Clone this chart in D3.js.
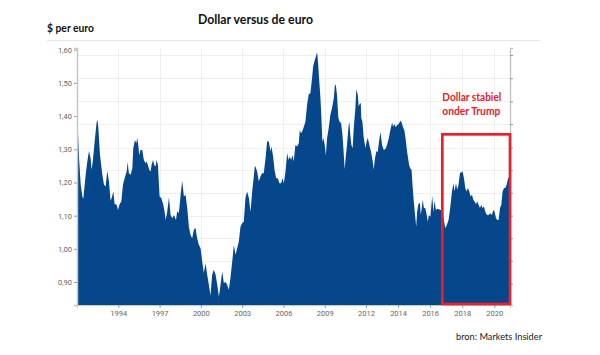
<!DOCTYPE html>
<html><head><meta charset="utf-8">
<script src="https://cdn.jsdelivr.net/npm/d3@7"></script>
<style>html,body{margin:0;padding:0;background:#fff;}svg{display:block;}</style>
</head><body>
<svg id="chart" width="600" height="355"></svg>
<script>
// ---- data ----
const years = [
1991.00,1991.07,1991.15,1991.27,1991.39,1991.46,1991.63,1991.75,1991.87,1991.99,
1992.06,1992.16,1992.28,1992.43,1992.48,1992.55,1992.67,1992.84,1992.96,1993.08,
1993.20,1993.32,1993.44,1993.52,1993.64,1993.73,1993.88,1993.98,1994.10,1994.22,
1994.34,1994.46,1994.61,1994.68,1994.77,1994.90,1995.02,1995.09,1995.21,1995.31,
1995.38,1995.45,1995.52,1995.62,1995.74,1995.86,1995.98,1996.06,1996.15,1996.25,
1996.35,1996.42,1996.52,1996.61,1996.71,1996.78,1996.88,1997.00,1997.12,1997.27,
1997.36,1997.44,1997.55,1997.68,1997.80,1997.92,1998.04,1998.19,1998.28,1998.40,
1998.53,1998.64,1998.77,1998.89,1999.01,1999.13,1999.25,1999.37,1999.49,1999.61,
1999.73,1999.86,1999.98,2000.10,2000.22,2000.34,2000.46,2000.58,2000.70,2000.82,
2000.94,2001.07,2001.19,2001.31,2001.43,2001.55,2001.67,2001.79,2001.91,2002.03,
2002.15,2002.28,2002.40,2002.52,2002.64,2002.76,2002.88,2003.00,2003.12,2003.24,
2003.36,2003.49,2003.61,2003.73,2003.85,2003.92,2003.97,2004.09,2004.21,2004.33,
2004.45,2004.57,2004.70,2004.82,2004.94,2005.06,2005.13,2005.25,2005.35,2005.47,
2005.59,2005.71,2005.83,2005.93,2006.03,2006.15,2006.27,2006.37,2006.46,2006.56,
2006.66,2006.75,2006.87,2006.99,2007.12,2007.19,2007.28,2007.38,2007.48,2007.60,
2007.72,2007.84,2007.96,2008.08,2008.16,2008.25,2008.35,2008.45,2008.52,2008.59,
2008.69,2008.76,2008.83,2008.91,2009.00,2009.08,2009.17,2009.29,2009.41,2009.53,
2009.66,2009.73,2009.80,2009.89,2009.99,2010.09,2010.19,2010.29,2010.38,2010.45,
2010.52,2010.62,2010.72,2010.79,2010.86,2010.94,2011.03,2011.11,2011.23,2011.30,
2011.40,2011.47,2011.54,2011.62,2011.66,2011.74,2011.83,2011.96,2012.02,2012.11,
2012.21,2012.31,2012.42,2012.48,2012.56,2012.65,2012.73,2012.81,2012.90,2013.00,
2013.11,2013.21,2013.31,2013.42,2013.52,2013.63,2013.69,2013.77,2013.86,2013.94,
2014.04,2014.15,2014.23,2014.31,2014.40,2014.48,2014.56,2014.69,2014.77,2014.84,
2014.90,2014.98,2015.06,2015.13,2015.19,2015.27,2015.36,2015.42,2015.48,2015.54,
2015.61,2015.69,2015.77,2015.86,2015.92,2016.02,2016.13,2016.21,2016.27,2016.36,
2016.44,2016.52,2016.63,2016.73,2016.84,2016.94,2017.04,2017.15,2017.25,2017.36,
2017.46,2017.52,2017.61,2017.69,2017.77,2017.86,2017.94,2018.02,2018.11,2018.19,
2018.27,2018.36,2018.44,2018.52,2018.61,2018.69,2018.77,2018.86,2018.94,2019.02,
2019.11,2019.19,2019.27,2019.36,2019.44,2019.54,2019.65,2019.75,2019.86,2019.94,
2020.02,2020.11,2020.19,2020.27,2020.36,2020.44,2020.52,2020.61,2020.69,2020.77,
2020.86,2020.98];
const rate = [
1.417,1.353,1.273,1.193,1.158,1.151,1.223,1.263,1.295,1.273,
1.238,1.268,1.323,1.383,1.389,1.364,1.283,1.223,1.193,1.188,
1.235,1.203,1.145,1.153,1.173,1.135,1.133,1.117,1.135,1.143,
1.193,1.213,1.233,1.261,1.228,1.223,1.243,1.303,1.328,1.318,
1.335,1.313,1.283,1.298,1.298,1.268,1.258,1.263,1.253,1.238,
1.233,1.253,1.268,1.253,1.248,1.268,1.253,1.158,1.153,1.133,
1.113,1.087,1.110,1.155,1.102,1.092,1.102,1.087,1.113,1.107,
1.163,1.205,1.158,1.163,1.123,1.067,1.042,1.032,1.057,1.064,
1.032,1.012,1.002,0.962,0.927,0.957,0.922,0.892,0.859,0.922,
0.937,0.922,0.892,0.856,0.892,0.932,0.897,0.900,0.892,0.877,
0.912,0.962,1.012,0.982,1.002,1.022,1.067,1.077,1.082,1.153,
1.173,1.153,1.112,1.173,1.218,1.248,1.248,1.233,1.203,1.218,
1.228,1.228,1.273,1.325,1.323,1.293,1.308,1.278,1.238,1.213,
1.213,1.198,1.198,1.213,1.198,1.233,1.288,1.268,1.278,1.268,
1.283,1.263,1.313,1.308,1.318,1.358,1.348,1.355,1.368,1.383,
1.434,1.466,1.469,1.514,1.549,1.564,1.579,1.592,1.559,1.514,
1.454,1.394,1.323,1.333,1.313,1.281,1.333,1.364,1.404,1.424,
1.454,1.489,1.496,1.464,1.394,1.382,1.379,1.343,1.288,1.240,
1.273,1.313,1.364,1.383,1.343,1.313,1.303,1.364,1.424,1.481,
1.464,1.429,1.436,1.439,1.394,1.383,1.338,1.303,1.318,1.335,
1.313,1.293,1.263,1.238,1.273,1.295,1.291,1.323,1.352,1.313,
1.298,1.301,1.313,1.333,1.358,1.381,1.368,1.376,1.366,1.373,
1.376,1.386,1.379,1.366,1.355,1.328,1.293,1.253,1.241,1.238,
1.193,1.143,1.102,1.067,1.112,1.135,1.138,1.102,1.123,1.148,
1.123,1.123,1.107,1.082,1.102,1.097,1.160,1.110,1.145,1.117,
1.120,1.120,1.117,1.117,1.092,1.062,1.072,1.087,1.123,1.173,
1.198,1.173,1.198,1.178,1.193,1.228,1.231,1.233,1.213,1.183,
1.173,1.183,1.173,1.158,1.163,1.148,1.143,1.135,1.143,1.133,
1.123,1.133,1.123,1.128,1.112,1.102,1.102,1.107,1.102,1.117,
1.112,1.092,1.087,1.087,1.123,1.133,1.173,1.183,1.183,1.193,
1.213,1.220];
const xTickYears = [1994,1997,2000,2003,2006,2009,2012,2014,2016,2018,2020];
const yTickValues = [0.90,1.00,1.10,1.20,1.30,1.40,1.50,1.60];
const gridValues = [0.895,0.964,1.032,1.100,1.169,1.237,1.305,1.376,1.444,1.514,1.584];
const yDomain = [0.831, 1.605];
const xDomainYears = [1991.0, 2012.0, 2020.98];   // axis is stretched after 2012 in the source
const highlightYears = [2016.76, 2020.98];           // "Dollar stabiel onder Trump" box
const highlightTop = 1.345;
const title = "Dollar versus de euro";
const yLabel = "$ per euro";
const noteLines = ["Dollar stabiel", "onder Trump"];
const source = "bron: Markets Insider";

// ---- helpers ----
function toDate(y){
  const yr = Math.floor(y);
  const s = new Date(yr,0,1), e = new Date(yr+1,0,1);
  return new Date(+s + (y-yr)*(e-s));
}
const data = years.map((y,i)=>({date:toDate(y), v:rate[i]}));

// ---- layout ----
const L = 77, R = 510, T = 48, B = 305;
const svg = d3.select("#chart");
const x = d3.scaleTime().domain(xDomainYears.map(toDate)).range([L, L + (R-L)*0.6674, R]);
const y = d3.scaleLinear().domain(yDomain).range([B, T]);

const blue = "#06468b", red = "#e8202b";

// separator under header
svg.append("line").attr("x1",47).attr("x2",540).attr("y1",40.5).attr("y2",40.5)
  .attr("stroke","#e6e6e6").attr("stroke-width",1);

// grid
const g = svg.append("g");
g.selectAll(".vg").data(xTickYears).join("line")
  .attr("x1",d=>Math.round(x(toDate(d)))+0.5).attr("x2",d=>Math.round(x(toDate(d)))+0.5)
  .attr("y1",T).attr("y2",B).attr("stroke","#efefef").attr("stroke-width",1);
g.selectAll(".hg").data(gridValues).join("line")
  .attr("x1",L).attr("x2",R)
  .attr("y1",d=>Math.round(y(d))+0.5).attr("y2",d=>Math.round(y(d))+0.5)
  .attr("stroke","#efefef").attr("stroke-width",1);

// area
const area = d3.area().x(d=>x(d.date)).y0(B).y1(d=>y(d.v)).curve(d3.curveLinear);
svg.append("path").datum(data).attr("d",area).attr("fill",blue);

// axes
const fmt = d => d3.format(".2f")(d).replace(".", ",");
const yAxis = svg.append("g").attr("transform",`translate(${L},0)`)
  .call(d3.axisLeft(y).tickValues(yTickValues).tickFormat(fmt).tickSize(3).tickPadding(2));
yAxis.select(".domain").attr("stroke","#c8c8c8").attr("stroke-width",1.5);
yAxis.selectAll(".tick line").attr("stroke","#999");
yAxis.selectAll("text").attr("font-family","Roboto, sans-serif").attr("font-size",7.5).attr("fill","#666");

const rAxis = svg.append("g").attr("transform",`translate(${R},0)`)
  .call(d3.axisRight(y).tickValues(gridValues).tickFormat("").tickSize(3));
rAxis.select(".domain").attr("stroke","#c8c8c8").attr("stroke-width",1.5);
rAxis.selectAll(".tick line").attr("stroke","#999");

const xAxis = svg.append("g").attr("transform",`translate(0,${B})`)
  .call(d3.axisBottom(x).tickValues(xTickYears.map(toDate)).tickFormat(d3.timeFormat("%Y")).tickSize(3).tickPadding(3));
xAxis.select(".domain").attr("stroke","#c8c8c8").attr("stroke-width",1);
xAxis.selectAll(".tick line").attr("stroke","#999");
xAxis.selectAll("text").attr("font-family","Roboto, sans-serif").attr("font-size",7.5).attr("fill","#666");

// highlight box
const bx0 = x(toDate(highlightYears[0])), bx1 = x(toDate(highlightYears[1]));
svg.append("rect").attr("x",bx0).attr("y",y(highlightTop)).attr("width",bx1-bx0)
  .attr("height",B-1-y(highlightTop)).attr("fill","none").attr("stroke",red).attr("stroke-width",2.7);

// texts
function fitText(sel, w){
  const n = sel.node(); const cur = n.getComputedTextLength();
  if (Math.abs(cur - w) > 1) sel.attr("textLength", w).attr("lengthAdjust","spacingAndGlyphs");
  return sel;
}
const font = "Lato, 'Open Sans', sans-serif";
fitText(svg.append("text").attr("x",255.5).attr("y",24).attr("text-anchor","middle")
  .attr("font-family",font).attr("font-weight",700).attr("font-size",12.5).attr("fill","#111").text(title), 115);
fitText(svg.append("text").attr("x",47).attr("y",32.3)
  .attr("font-family",font).attr("font-weight",700).attr("font-size",11.5).attr("fill","#111").text(yLabel), 47);
const note = svg.append("g");
noteLines.forEach((t,i)=>{
  fitText(note.append("text").attr("x",bx0).attr("y",101 + i*13.5)
    .attr("font-family",font).attr("font-weight",700).attr("font-size",10.5).attr("fill",red).text(t), i===0?59:58);
});
fitText(svg.append("text").attr("x",456).attr("y",339.5)
  .attr("font-family",font).attr("font-size",10).attr("fill","#222").text(source), 86);
</script>
</body></html>
